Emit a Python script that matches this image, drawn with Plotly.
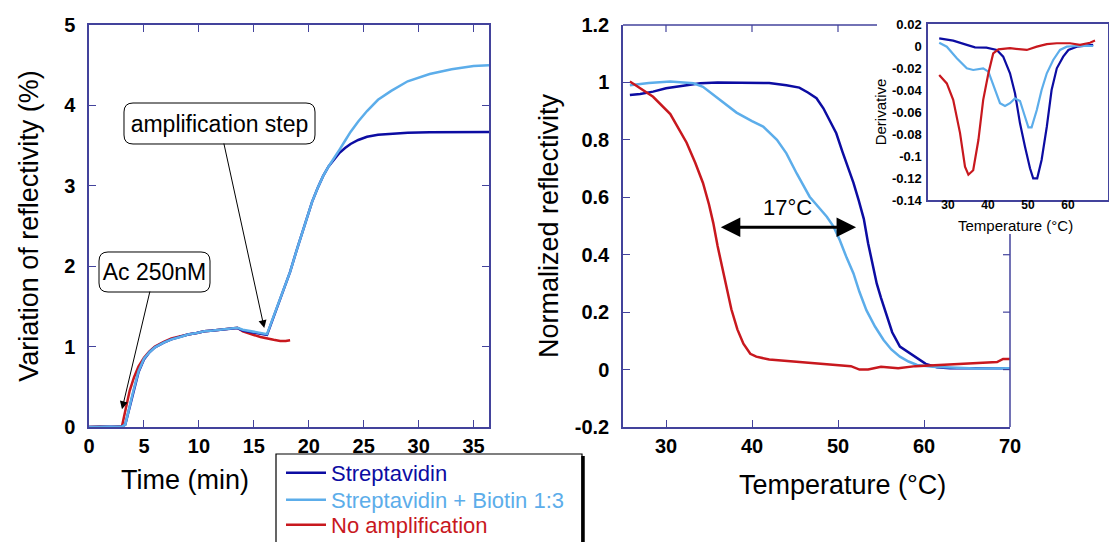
import plotly.graph_objects as go

# ---------------- data ----------------
# Left panel: time (min) vs variation of reflectivity (%)
t_strep = [0, 1, 2, 3.0, 3.3, 3.6, 4.0, 4.5, 5.0, 5.5, 6.0, 6.8, 7.5, 8.3, 9.0, 9.8, 10.5, 11.3, 12.0,
           12.8, 13.5, 14.0, 14.5, 15.0, 15.6, 16.2, 16.6, 17.0, 17.4, 17.8, 18.3, 18.9, 19.4, 19.8,
           20.3, 20.8, 21.3, 21.8, 22.3, 22.8, 23.3, 23.8, 24.5, 25.3, 26.3, 27.5, 29, 31, 33, 35, 36.4]
v_strep = [0, 0, 0, 0.005, 0.03, 0.2, 0.42, 0.68, 0.84, 0.93, 0.99, 1.05, 1.09, 1.12, 1.15, 1.17, 1.19,
           1.2, 1.21, 1.22, 1.23, 1.2, 1.185, 1.17, 1.16, 1.145, 1.3, 1.45, 1.6, 1.75, 1.93, 2.2, 2.42,
           2.6, 2.8, 2.97, 3.12, 3.24, 3.33, 3.41, 3.47, 3.52, 3.57, 3.61, 3.635, 3.65, 3.66, 3.665,
           3.67, 3.67, 3.67]
t_biot = [0, 1, 2, 3.0, 3.3, 3.6, 4.0, 4.5, 5.0, 5.5, 6.0, 6.8, 7.5, 8.3, 9.0, 9.8, 10.5, 11.3, 12.0,
          12.8, 13.5, 14.0, 14.5, 15.0, 15.6, 16.2, 16.6, 17.0, 17.4, 17.8, 18.3, 18.9, 19.4, 19.8,
          20.3, 20.8, 21.3, 21.8, 22.3, 22.8, 23.3, 23.8, 24.5, 25.3, 26.3, 27.5, 29, 31, 33, 35, 36.4]
v_biot = [0, 0, 0, 0.005, 0.03, 0.21, 0.43, 0.69, 0.85, 0.93, 0.99, 1.05, 1.09, 1.12, 1.15, 1.17, 1.19,
          1.2, 1.21, 1.22, 1.235, 1.21, 1.195, 1.18, 1.17, 1.155, 1.3, 1.45, 1.6, 1.75, 1.93, 2.2, 2.42,
          2.6, 2.8, 2.97, 3.12, 3.24, 3.34, 3.45, 3.56, 3.67, 3.8, 3.93, 4.07, 4.18, 4.30, 4.39, 4.45,
          4.49, 4.5]
t_noamp = [0, 1, 2, 2.5, 3.0, 3.3, 3.7, 4.1, 4.5, 5.0, 5.5, 6.0, 6.8, 7.5, 8.3, 9.0, 9.8, 10.5, 11.3,
           12.0, 12.8, 13.5, 14.0, 14.5, 15.0, 15.6, 16.2, 16.8, 17.4, 17.9, 18.3]
v_noamp = [0, 0.005, 0, 0.005, 0.01, 0.2, 0.45, 0.62, 0.75, 0.86, 0.94, 1.0, 1.06, 1.1, 1.13, 1.15,
           1.17, 1.19, 1.2, 1.21, 1.22, 1.235, 1.19, 1.165, 1.145, 1.12, 1.10, 1.085, 1.07, 1.07, 1.08]

# Right panel: temperature (°C) vs normalized reflectivity
T_strep = [25.8, 27, 28.5, 30, 32.4, 34, 36, 38, 40, 42, 44, 45.5, 46.5, 47.5, 48.3, 49, 49.8, 50.5,
           51.2, 51.8, 52.4, 53, 53.5, 54, 54.5, 55, 55.7, 56.3, 57.2, 58.2, 59.2, 60.2, 61.5, 63, 65,
           67, 70]
n_strep = [0.956, 0.96, 0.968, 0.98, 0.99, 0.997, 1.0, 1.0, 1.0, 0.998, 0.99, 0.982, 0.965, 0.945,
           0.91, 0.87, 0.823, 0.76, 0.70, 0.65, 0.59, 0.525, 0.44, 0.37, 0.30, 0.25, 0.184, 0.13,
           0.08, 0.06, 0.04, 0.02, 0.008, 0.005, 0.005, 0.005, 0.005]
T_biot = [25.8, 28, 30.5, 33.2, 34.3, 36.3, 38.2, 40, 41.3, 42.9, 44.0, 45.2, 46.0, 46.7, 47.9, 48.7,
          49.5, 50.2, 51.0, 51.8, 52.5, 53.3, 54.3, 55.3, 56.2, 57.2, 58.2, 59.2, 61, 63.4, 66, 70]
n_biot = [0.99, 0.998, 1.003, 0.997, 0.985, 0.94, 0.895, 0.865, 0.846, 0.80, 0.753, 0.683, 0.637,
          0.602, 0.56, 0.532, 0.497, 0.451, 0.39, 0.335, 0.27, 0.207, 0.15, 0.103, 0.07, 0.045, 0.028,
          0.016, 0.01, 0.008, 0.004, 0.005]
T_noamp = [25.8, 27, 28.5, 30.5, 31.5, 32.4, 33.4, 34.3, 35.0, 35.5, 36.0, 36.5, 37.0, 37.6, 38.3,
           39.0, 39.8, 40.5, 42, 44, 46, 48, 50, 51.5, 52.5, 53.5, 55, 57, 59, 61.5, 64, 66.5, 68.5,
           69.2, 70]
n_noamp = [1.003, 0.98, 0.95, 0.89, 0.84, 0.79, 0.72, 0.65, 0.575, 0.51, 0.43, 0.36, 0.29, 0.21,
           0.14, 0.09, 0.055, 0.045, 0.035, 0.03, 0.027, 0.022, 0.015, 0.012, 0.0, 0.0, 0.01, 0.005,
           0.012, 0.016, 0.018, 0.024, 0.026, 0.037, 0.037]

# Inset: derivative
Td_strep = [27.8, 31.3, 34.7, 36.75, 39.6, 42.2, 43.8, 45.5, 46.75, 48.0, 49.25, 50.5, 51.3, 52.3,
            53.4, 54.7, 55.9, 57.2, 58.8, 60.1, 62.2, 66.3]
d_strep = [0.007, 0.0049, 0.001, -0.0012, -0.0015, -0.0036, -0.0097, -0.0248, -0.043, -0.0703,
           -0.0915, -0.1112, -0.1203, -0.1203, -0.1036, -0.0734, -0.04, -0.0203, -0.0097, -0.0036,
           -0.0006, 0.001]
Td_biot = [27.8, 29.7, 32.2, 34.7, 36.3, 38.8, 40.1, 41.75, 43.0, 44.25, 45.5, 46.75, 48.0, 49.25,
           50.1, 50.9, 52.2, 53.4, 54.7, 56.3, 58.0, 59.7, 62.2, 66.3]
d_biot = [0.003, -0.0006, -0.0112, -0.0203, -0.0218, -0.0203, -0.0233, -0.04, -0.052, -0.0545,
          -0.052, -0.0476, -0.050, -0.0643, -0.074, -0.074, -0.0582, -0.04, -0.0248, -0.0127,
          -0.0036, -0.0006, 0.0, 0.0]
Td_noamp = [27.8, 29.7, 31.3, 33.0, 34.25, 35.1, 36.3, 37.6, 38.8, 40.1, 41.3, 42.6, 45.5, 49.7,
            52.2, 54.7, 57.2, 60.5, 63, 65.5, 66.75]
d_noamp = [-0.0264, -0.034, -0.049, -0.079, -0.1097, -0.117, -0.113, -0.0855, -0.049, -0.0248,
           -0.0067, -0.003, -0.002, -0.0036, -0.0006, 0.0017, 0.0025, 0.0025, 0.001, 0.003, 0.0049]

series_names = ["Streptavidin", "Streptavidin + Biotin 1:3", "No amplification"]
series_colors = ["#0c0ca2", "#5cadea", "#c8181e"]

x1_ticks = [0, 5, 10, 15, 20, 25, 30, 35]
y1_ticks = [0, 1, 2, 3, 4, 5]
x2_ticks = [30, 40, 50, 60, 70]
y2_ticks = [-0.2, 0, 0.2, 0.4, 0.6, 0.8, 1.0, 1.2]
y2_text = ["-0.2", "0", "0.2", "0.4", "0.6", "0.8", "1", "1.2"]
x3_ticks = [30, 40, 50, 60, 70]
y3_ticks = [0.02, 0, -0.02, -0.04, -0.06, -0.08, -0.1, -0.12, -0.14]
y3_text = ["0.02", "0", "-0.02", "-0.04", "-0.06", "-0.08", "-0.1", "-0.12", "-0.14"]

# ---------------- layout geometry (pixels) ----------------
W, H = 1109, 542
FONT = "Liberation Sans, Arial, Helvetica, sans-serif"
AX = "#43439c"


def fx(p):
    return p / W


def fy(p):
    return 1 - p / H


def bold(labels):
    return ["<b>%s</b>" % s for s in labels]


L1 = (89, 489, 25, 427)      # left, right, top, bottom
L2 = (623, 1010, 25, 427)
L3 = (928, 1108, 24, 200)
X1R, Y1R = [0, 36.4], [0, 5]
X2R, Y2R = [25, 70], [-0.2, 1.2]
X3R, Y3R = [25, 70], [-0.14, 0.02]
LEGEND_ROWS = [473, 500, 525]


def x2px(v):
    return L2[0] + (v - X2R[0]) / (X2R[1] - X2R[0]) * (L2[1] - L2[0])


def y2px(v):
    return L2[3] - (v - Y2R[0]) / (Y2R[1] - Y2R[0]) * (L2[3] - L2[2])


fig = go.Figure()

legend_ids = ["legend", "legend2", "legend3"]
sets_left = [(t_strep, v_strep), (t_biot, v_biot), (t_noamp, v_noamp)]
sets_right = [(T_strep, n_strep), (T_biot, n_biot), (T_noamp, n_noamp)]
sets_inset = [(Td_strep, d_strep), (Td_biot, d_biot), (Td_noamp, d_noamp)]
order = [2, 0, 1]  # draw red first, then dark blue, then light blue on top
for i in order:
    fig.add_trace(go.Scatter(x=sets_left[i][0], y=sets_left[i][1], mode="lines",
                             line=dict(color=series_colors[i], width=2.5),
                             name="<span style='color:%s'>%s</span>" % (series_colors[i], series_names[i]),
                             legend=legend_ids[i], xaxis="x", yaxis="y"))
for i in [0, 1, 2]:
    fig.add_trace(go.Scatter(x=sets_right[i][0], y=sets_right[i][1], mode="lines",
                             line=dict(color=series_colors[i], width=2.5),
                             showlegend=False, xaxis="x2", yaxis="y2"))
for i in [0, 1, 2]:
    fig.add_trace(go.Scatter(x=sets_inset[i][0], y=sets_inset[i][1], mode="lines",
                             line=dict(color=series_colors[i], width=2.2),
                             showlegend=False, xaxis="x3", yaxis="y3"))

tick_font = dict(family=FONT, size=20, color="black")
title_font = dict(family=FONT, size=27, color="black")
common = dict(showgrid=False, zeroline=False, showline=True, linecolor=AX, linewidth=1.5,
              ticks="inside", tickcolor=AX, ticklen=7, tickwidth=1.2, automargin=False)
inset_common = dict(showgrid=False, zeroline=False, showline=True, linecolor=AX, linewidth=1.5,
                    ticks="", automargin=False, mirror=True)

legend_common = dict(x=fx(281), xanchor="left", yanchor="middle",
                     font=dict(family=FONT, size=22), bgcolor="rgba(0,0,0,0)", borderwidth=0,
                     itemwidth=40)

fig.update_layout(
    width=W, height=H, margin=dict(l=0, r=0, t=0, b=0, autoexpand=False),
    paper_bgcolor="white", plot_bgcolor="white",
    font=dict(family=FONT, color="black"),
    xaxis=dict(domain=[fx(L1[0]), fx(L1[1])], range=X1R, tickvals=x1_ticks,
               ticktext=bold([str(v) for v in x1_ticks]), mirror="ticks",
               tickfont=tick_font, ticklabelstandoff=0, **common),
    yaxis=dict(domain=[fy(L1[3]), fy(L1[2])], range=Y1R, tickvals=y1_ticks,
               ticktext=bold([str(v) for v in y1_ticks]), mirror="ticks",
               tickfont=tick_font, ticklabelstandoff=8,
               title=dict(text="Variation of reflectivity (%)", font=title_font, standoff=18), **common),
    xaxis2=dict(domain=[fx(L2[0]), fx(L2[1])], range=X2R, tickvals=x2_ticks,
                ticktext=bold([str(v) for v in x2_ticks]), anchor="y2",
                tickfont=tick_font, ticklabelstandoff=0, **common),
    yaxis2=dict(domain=[fy(L2[3]), fy(L2[2])], range=Y2R, tickvals=y2_ticks, ticktext=bold(y2_text),
                anchor="x2", tickfont=tick_font, ticklabelstandoff=8,
                title=dict(text="Normalized reflectivity", font=title_font, standoff=8), **common),
    xaxis3=dict(domain=[fx(L3[0]), fx(L3[1])], range=X3R, tickvals=x3_ticks,
                ticktext=bold([str(v) for v in x3_ticks]), anchor="y3", ticklabelstandoff=-7,
                tickfont=dict(family=FONT, size=12, color="black"), **inset_common),
    yaxis3=dict(domain=[fy(L3[3]), fy(L3[2])], range=Y3R, tickvals=y3_ticks, ticktext=bold(y3_text),
                anchor="x3", ticklabelstandoff=2,
                tickfont=dict(family=FONT, size=13, color="black"),
                title=dict(text="Derivative", font=dict(family=FONT, size=15, color="black"),
                           standoff=2), **inset_common),
    legend=dict(y=fy(LEGEND_ROWS[0]), **legend_common),
    legend2=dict(y=fy(LEGEND_ROWS[1]), **legend_common),
    legend3=dict(y=fy(LEGEND_ROWS[2]), **legend_common),
    showlegend=True,
)

# axis titles placed as in the original figure
fig.add_annotation(x=fx(185), y=fy(480), xref="paper", yref="paper", text="Time (min)",
                   xanchor="center", yanchor="middle", showarrow=False, font=title_font)
fig.add_annotation(x=fx(842), y=fy(485), xref="paper", yref="paper", text="Temperature (°C)",
                   xanchor="center", yanchor="middle", showarrow=False, font=title_font)
fig.add_annotation(x=fx(1015), y=fy(225), xref="paper", yref="paper", text="Temperature (°C)",
                   xanchor="center", yanchor="middle", showarrow=False,
                   font=dict(family=FONT, size=15, color="black"))

shapes = []
# right panel frame (top and right edges stop at the inset box)
line_style = dict(color=AX, width=1.5)
shapes.append(dict(type="line", xref="paper", yref="paper", x0=fx(L2[0]), x1=fx(877),
                   y0=fy(L2[2]), y1=fy(L2[2]), line=line_style))
shapes.append(dict(type="line", xref="paper", yref="paper", x0=fx(L2[1]), x1=fx(L2[1]),
                   y0=fy(234), y1=fy(L2[3]), line=line_style))
for v in [30, 40, 50]:
    shapes.append(dict(type="line", xref="paper", yref="paper", x0=fx(x2px(v)), x1=fx(x2px(v)),
                       y0=fy(L2[2]), y1=fy(L2[2] + 7), line=dict(color=AX, width=1.2)))
for v in [0, 0.2, 0.4]:
    shapes.append(dict(type="line", xref="paper", yref="paper", x0=fx(L2[1]), x1=fx(L2[1] - 7),
                       y0=fy(y2px(v)), y1=fy(y2px(v)), line=dict(color=AX, width=1.2)))


def rounded_box(x0, y0, x1, y1, r):
    pts = [("M", x0 + r, y0), ("L", x1 - r, y0), ("Q", x1, y0, x1, y0 + r), ("L", x1, y1 - r),
           ("Q", x1, y1, x1 - r, y1), ("L", x0 + r, y1), ("Q", x0, y1, x0, y1 - r),
           ("L", x0, y0 + r), ("Q", x0, y0, x0 + r, y0)]
    s = ""
    for p in pts:
        if p[0] == "Q":
            s += "Q%.5f,%.5f %.5f,%.5f " % (fx(p[1]), fy(p[2]), fx(p[3]), fy(p[4]))
        else:
            s += "%s%.5f,%.5f " % (p[0], fx(p[1]), fy(p[2]))
    return s + "Z"


boxes = [(124, 103, 315, 144), (99, 252, 210, 292)]
for b in boxes:
    shapes.append(dict(type="path", xref="paper", yref="paper", path=rounded_box(*b, 9),
                       line=dict(color="black", width=1), fillcolor="white", layer="above"))

# legend frame
shapes.append(dict(type="rect", xref="paper", yref="paper", x0=fx(276), x1=fx(582),
                   y0=fy(548), y1=fy(454), line=dict(color="black", width=1.2)))
shapes.append(dict(type="line", xref="paper", yref="paper", x0=fx(583), x1=fx(583),
                   y0=fy(548), y1=fy(456), line=dict(color="black", width=3.5)))
fig.update_layout(shapes=shapes)


def px_to_x1(p):
    return X1R[0] + (p - L1[0]) / (L1[1] - L1[0]) * (X1R[1] - X1R[0])


def px_to_y1(p):
    return Y1R[0] + (L1[3] - p) / (L1[3] - L1[2]) * (Y1R[1] - Y1R[0])


ann_font = dict(family=FONT, size=23, color="black")
annots = [
    dict(text="amplification step", box=boxes[0], tip=(15.95, 1.23)),
    dict(text="Ac 250nM", box=boxes[1], tip=(3.0, 0.22)),
]
for a in annots:
    x0, y0, x1, y1 = a["box"]
    fig.add_annotation(x=a["tip"][0], y=a["tip"][1], xref="x", yref="y",
                       ax=px_to_x1((x0 + x1) / 2), ay=px_to_y1((y0 + y1) / 2), axref="x", ayref="y",
                       text=a["text"], font=ann_font, showarrow=True, arrowhead=2, arrowsize=1.6,
                       arrowwidth=1, arrowcolor="black", width=x1 - x0 - 2, height=y1 - y0 - 2,
                       borderpad=0, standoff=0)

# 17 °C double arrow
fig.add_annotation(x=52.1, y=0.496, xref="x2", yref="y2", ax=36.2, ay=0.496, axref="x2", ayref="y2",
                   text="", showarrow=True, arrowhead=2, arrowside="end+start", arrowsize=1.3,
                   arrowwidth=3, arrowcolor="black")
fig.add_annotation(x=44.1, y=0.566, xref="x2", yref="y2", text="17°C", showarrow=False,
                   font=dict(family=FONT, size=22, color="black"))

fig.write_html("out.html", config={"displayModeBar": False},
               post_script="document.body.style.margin='0px';")
